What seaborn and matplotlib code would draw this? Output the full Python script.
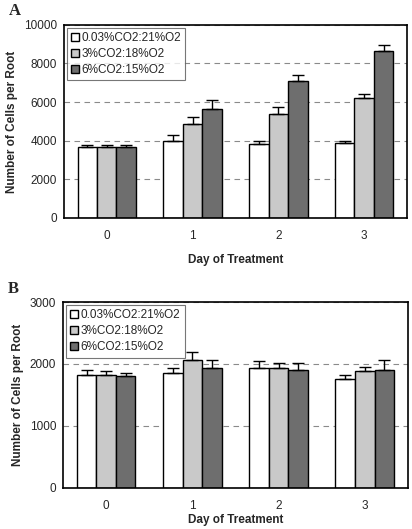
import numpy as np
import pandas as pd
import matplotlib
matplotlib.use("Agg")
import matplotlib.pyplot as plt
import seaborn as sns

# data
days = ["0", "1", "2", "3"]
treatments = ["0.03%CO2:21%O2", "3%CO2:18%O2", "6%CO2:15%O2"]

cells_a = {
    "0.03%CO2:21%O2": [3650, 4000, 3820, 3900],
    "3%CO2:18%O2": [3650, 4870, 5400, 6200],
    "6%CO2:15%O2": [3650, 5630, 7080, 8650],
}
err_a = {
    "0.03%CO2:21%O2": [130, 300, 170, 60],
    "3%CO2:18%O2": [130, 380, 330, 220],
    "6%CO2:15%O2": [130, 500, 340, 290],
}
cells_b = {
    "0.03%CO2:21%O2": [1820, 1850, 1930, 1760],
    "3%CO2:18%O2": [1820, 2070, 1930, 1880],
    "6%CO2:15%O2": [1800, 1940, 1900, 1910],
}
err_b = {
    "0.03%CO2:21%O2": [75, 90, 110, 55],
    "3%CO2:18%O2": [70, 125, 90, 70],
    "6%CO2:15%O2": [60, 120, 110, 150],
}

colors = ["#ffffff", "#c9c9c9", "#6e6e6e"]

sns.set_style("white")
plt.rcParams["font.family"] = ["Liberation Sans", "DejaVu Sans"]


def make_df(vals, errs):
    rows = []
    for t in treatments:
        for i, d in enumerate(days):
            rows.append({"Day": d, "Treatment": t, "Cells": vals[t][i], "Err": errs[t][i]})
    return pd.DataFrame(rows)


def draw_panel(ax, vals, errs, ymax, step, letter, xpad, xlabpad):
    df = make_df(vals, errs)
    ax.yaxis.grid(True, linestyle=(0, (5, 4)), color="#8a8a8a", linewidth=0.8)
    ax.set_axisbelow(True)
    sns.barplot(data=df, x="Day", y="Cells", hue="Treatment", order=days,
                hue_order=treatments, palette=colors, width=0.68,
                edgecolor="black", linewidth=1.0, errorbar=None, ax=ax)
    # one-sided error bars on each bar
    for k, t in enumerate(treatments):
        cont = ax.containers[k]
        xs = [p.get_x() + p.get_width() / 2 for p in cont.patches]
        ys = vals[t]
        ax.errorbar(xs, ys, yerr=[np.zeros(len(ys)), errs[t]], fmt="none",
                    ecolor="black", elinewidth=1.0, capsize=4.5, capthick=1.0)
    ax.set_ylim(0, ymax)
    ax.set_xlim(-0.5, 3.5)
    ax.set_yticks(np.arange(0, ymax + 1, step))
    ax.set_xticks(range(4))
    ax.set_xticklabels(days)
    ax.set_xticks([-0.5, 0.5, 1.5, 2.5, 3.5], minor=True)
    ax.tick_params(axis="x", which="major", length=0, pad=xpad, labelsize=8.5)
    ax.tick_params(axis="x", which="minor", length=4, direction="out", width=0.8)
    ax.tick_params(axis="y", length=3, direction="out", width=0.8, labelsize=8.5, pad=2)
    for s in ax.spines.values():
        s.set_visible(True)
        s.set_color("black")
        s.set_linewidth(1.2)
    ax.set_xlabel("Day of Treatment", fontsize=8.5, fontweight="bold", labelpad=xlabpad)
    ax.set_ylabel("Number of Cells per Root", fontsize=8.5, fontweight="bold", labelpad=4)
    leg = ax.legend(loc="upper left", fontsize=8.5, frameon=True, fancybox=False,
                    edgecolor="#555555", handlelength=0.7, handleheight=0.7,
                    handletextpad=0.2, borderpad=0.35, labelspacing=0.35,
                    borderaxespad=0.25)
    leg.get_frame().set_linewidth(0.8)
    ax.text(-0.16, 1.07, letter, transform=ax.transAxes, fontsize=12,
            fontweight="bold", family="Liberation Serif", va="center")


fig = plt.figure(figsize=(4.12, 5.29), dpi=100)
ax_a = fig.add_axes([0.155, 0.588, 0.833, 0.365])
ax_b = fig.add_axes([0.153, 0.078, 0.837, 0.351])

draw_panel(ax_a, cells_a, err_a, 10000, 2000, "A", 9, 8)
draw_panel(ax_b, cells_b, err_b, 3000, 1000, "B", 9, 1)

fig.savefig("out.png", dpi=100)
